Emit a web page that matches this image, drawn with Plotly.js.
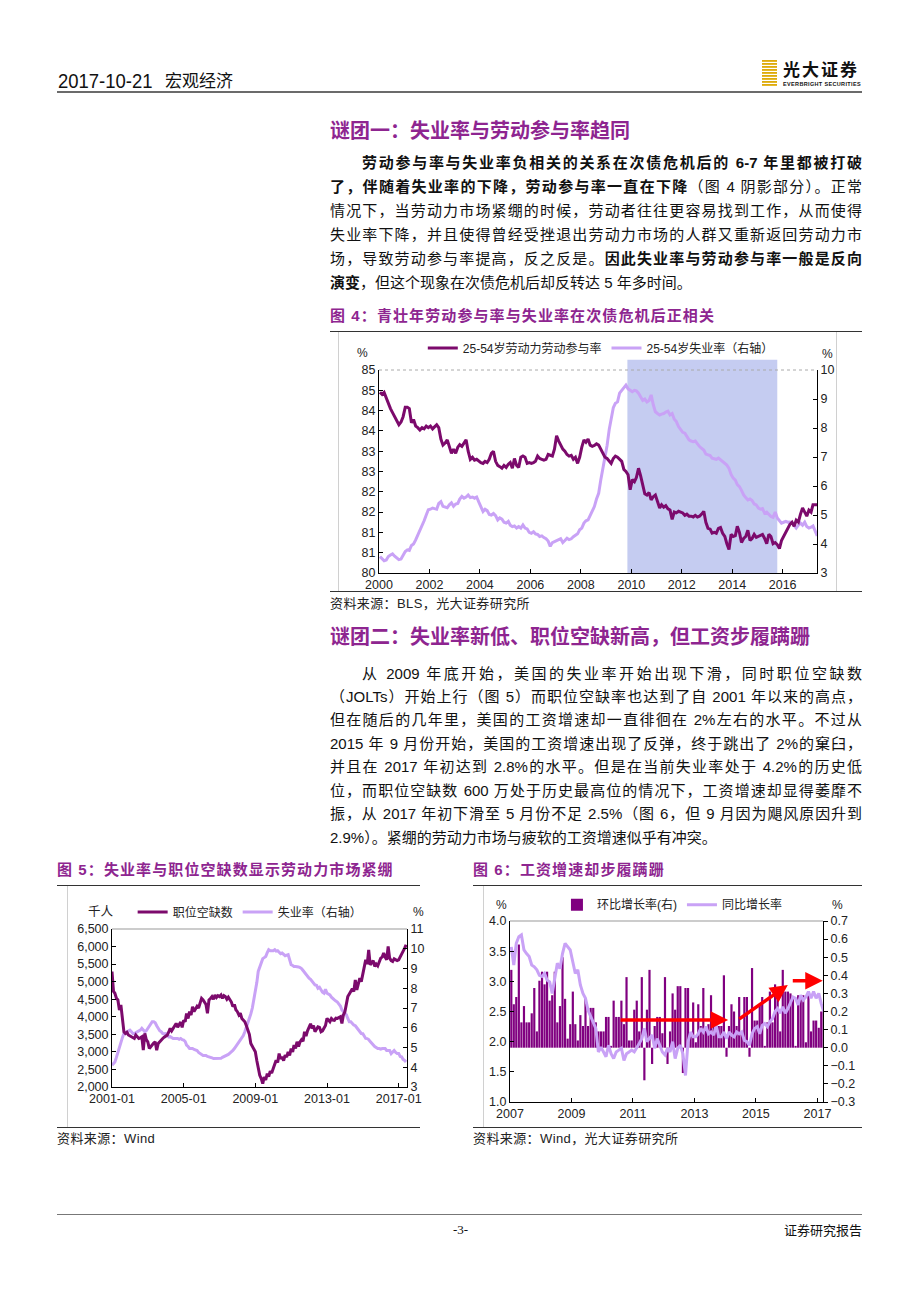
<!DOCTYPE html>
<html><head><meta charset="utf-8">
<script src="https://cdn.plot.ly/plotly-3.0.1.min.js"></script>
<style>
body{margin:0;width:920px;height:1302px;background:#fff;position:relative;overflow:hidden;font-family:"Liberation Sans","Noto Sans CJK SC",sans-serif;color:#111}
.abs{position:absolute}
.h{position:absolute;left:330px;font-family:"Noto Sans CJK SC";font-weight:700;font-size:20px;line-height:26px;color:#8e2590;white-space:nowrap}
.cap{position:absolute;font-family:"Liberation Sans","Noto Sans CJK SC";font-weight:700;font-size:15px;line-height:20px;color:#8e2590;letter-spacing:1.1px;white-space:nowrap}
.src{position:absolute;font-family:"Liberation Sans","Noto Sans CJK SC";font-size:13px;line-height:16px;color:#222;letter-spacing:0.4px;white-space:nowrap}
.para{position:absolute;left:330px;width:532px;font-size:15px;font-family:"Liberation Sans","Noto Sans CJK SC";color:#111}
.ln{overflow:hidden;text-align:justify;text-align-last:justify}
.ln.last{text-align-last:left}
.p1 .ln{height:24px;line-height:24px}
.p2 .ln{height:23.45px;line-height:23.45px}
.rule{position:absolute;height:0;border-top:1px solid #333}
.chart{position:absolute}
</style></head>
<body>
<!-- header -->
<div class="abs" style="left:58px;top:68px;font-family:'Liberation Sans';font-size:21px;line-height:26px;color:#111;transform:scaleX(0.88);transform-origin:left top">2017-10-21</div>
<div class="abs" style="left:165px;top:68px;font-family:'Noto Sans CJK SC';font-size:17px;line-height:24px;color:#111">宏观经济</div>
<div class="abs" style="left:762px;top:60px;width:15px;height:26px;background:repeating-linear-gradient(#d8a200 0px,#e9c23a 2px,#fff 2px,#fff 3px)"></div>
<div class="abs" style="left:783px;top:58px;font-family:'Noto Sans CJK SC';font-weight:700;font-size:17px;line-height:22px;letter-spacing:2px;color:#111">光大证券</div>
<div class="abs" style="left:783px;top:81px;font-family:'Liberation Sans';font-weight:700;font-size:5.5px;line-height:7px;letter-spacing:0.35px;color:#111">EVERBRIGHT SECURITIES</div>
<div class="abs" style="left:57px;top:91px;width:805px;height:2px;background:#6b6b6b"></div>

<div class="h" style="top:117px">谜团一：失业率与劳动参与率趋同</div>
<div class="para p1" style="top:151px">
<div class="ln" style="padding-left:32px"><b>劳动参与率与失业率负相关的关系在次债危机后的 6-7 年里都被打破</b></div>
<div class="ln"><b>了，伴随着失业率的下降，劳动参与率一直在下降</b>（图 4 阴影部分）。正常</div>
<div class="ln">情况下，当劳动力市场紧绷的时候，劳动者往往更容易找到工作，从而使得</div>
<div class="ln">失业率下降，并且使得曾经受挫退出劳动力市场的人群又重新返回劳动力市</div>
<div class="ln">场，导致劳动参与率提高，反之反是。<b>因此失业率与劳动参与率一般是反向</b></div>
<div class="ln last"><b>演变</b>，但这个现象在次债危机后却反转达 5 年多时间。</div>
</div>

<div class="cap" style="left:330px;top:306px">图 4：青壮年劳动参与率与失业率在次债危机后正相关</div>
<div class="rule" style="left:330px;top:331px;width:532px"></div>
<div class="abs" style="left:338px;top:332px;width:0;height:259px;border-left:1px solid #d0d0d0"></div>
<div class="abs" style="left:836px;top:332px;width:0;height:259px;border-left:1px solid #d0d0d0"></div>
<div id="c4" class="chart" style="left:338px;top:334px;width:497px;height:260px"></div>
<div class="rule" style="left:330px;top:591px;width:532px"></div>
<div class="src" style="left:330px;top:596px">资料来源：BLS，光大证券研究所</div>

<div class="h" style="top:623px">谜团二：失业率新低、职位空缺新高，但工资步履蹒跚</div>
<div class="para p2" style="top:661.5px">
<div class="ln" style="padding-left:32px">从 2009 年底开始，美国的失业率开始出现下滑，同时职位空缺数</div>
<div class="ln">（JOLTs）开始上行（图 5）而职位空缺率也达到了自 2001 年以来的高点，</div>
<div class="ln">但在随后的几年里，美国的工资增速却一直徘徊在 2%左右的水平。不过从</div>
<div class="ln">2015 年 9 月份开始，美国的工资增速出现了反弹，终于跳出了 2%的窠臼，</div>
<div class="ln">并且在 2017 年初达到 2.8%的水平。但是在当前失业率处于 4.2%的历史低</div>
<div class="ln">位，而职位空缺数 600 万处于历史最高位的情况下，工资增速却显得萎靡不</div>
<div class="ln">振，从 2017 年初下滑至 5 月份不足 2.5%（图 6，但 9 月因为飓风原因升到</div>
<div class="ln last">2.9%）。紧绷的劳动力市场与疲软的工资增速似乎有冲突。</div>
</div>

<div class="cap" style="left:57px;top:860px">图 5：失业率与职位空缺数显示劳动力市场紧绷</div>
<div class="cap" style="left:473px;top:860px">图 6：工资增速却步履蹒跚</div>
<div class="rule" style="left:57px;top:885px;width:363px"></div>
<div class="rule" style="left:473px;top:885px;width:389px"></div>
<div class="abs" style="left:67px;top:886px;width:0;height:241px;border-left:1px solid #d0d0d0"></div>
<div class="abs" style="left:483px;top:886px;width:0;height:241px;border-left:1px solid #d0d0d0"></div>
<div id="c5" class="chart" style="left:67px;top:887px;width:360px;height:239px"></div>
<div id="c6" class="chart" style="left:483px;top:887px;width:379px;height:239px"></div>
<div class="rule" style="left:57px;top:1127px;width:363px"></div>
<div class="rule" style="left:473px;top:1127px;width:389px"></div>
<div class="src" style="left:57px;top:1131px">资料来源：Wind</div>
<div class="src" style="left:473px;top:1131px">资料来源：Wind，光大证券研究所</div>

<div class="abs" style="left:57px;top:1214px;width:805px;height:1px;background:#777"></div>
<div class="abs" style="left:453px;top:1222px;font-family:'Liberation Serif';font-size:13px;line-height:16px;color:#111">-3-</div>
<div class="abs" style="right:58px;top:1222px;font-family:'Noto Sans CJK SC';font-size:13px;line-height:16px;color:#111">证券研究报告</div>

<script>
// ---------- Figure 4 data (monthly, 2000-01 .. 2017-05) ----------
const fig4Start = [2000, 1];
const lfpr = [
84.45,84.40,84.45,84.30,84.15,84.05,83.95,83.85,83.75,83.65,83.72,83.85,
84.08,84.08,84.05,83.70,83.78,83.62,83.58,83.52,83.58,83.55,83.62,83.58,
83.62,83.55,83.60,83.65,83.58,83.30,83.15,83.20,83.28,83.10,82.95,83.05,
82.95,83.10,83.16,83.12,83.20,83.28,83.00,82.80,82.85,82.78,82.80,82.75,
82.72,82.70,82.75,82.72,82.80,82.95,83.00,82.75,82.65,82.62,82.58,82.65,
82.60,82.68,82.72,82.58,82.82,82.65,82.60,82.85,82.88,82.85,82.70,82.72,
82.70,82.72,82.75,82.88,82.82,82.80,82.78,82.80,82.92,82.90,82.88,83.05,
83.38,83.25,83.15,83.05,83.00,82.92,82.88,82.90,82.80,82.85,82.70,82.85,
83.10,83.28,83.22,83.30,83.15,83.12,83.14,83.18,83.15,83.05,82.95,82.85,
82.82,82.75,82.70,82.82,82.88,82.85,82.80,82.75,82.55,82.50,82.42,82.05,
82.30,82.25,82.35,82.58,82.40,82.15,81.95,81.92,81.98,81.80,81.88,81.92,
81.75,81.60,81.68,81.62,81.66,81.58,81.55,81.32,81.50,81.48,81.52,81.50,
81.48,81.42,81.45,81.40,81.40,81.38,81.42,81.38,81.40,81.45,81.52,81.25,
81.10,81.08,80.98,81.00,80.98,81.10,81.12,80.98,80.90,80.72,80.58,80.95,
80.90,80.92,81.15,81.00,80.75,80.85,80.90,81.05,80.80,80.85,80.95,80.88,
80.90,80.92,80.95,80.85,80.72,80.95,80.90,80.72,80.75,80.70,80.60,80.80,
80.90,81.00,81.10,81.20,81.25,81.15,81.30,81.25,81.45,81.60,81.50,81.40,
81.55,81.50,81.68,81.68,81.68];
const unemp4 = [
3.57,3.50,3.42,3.45,3.57,3.62,3.66,3.58,3.50,3.46,3.48,3.62,
3.74,3.80,3.78,3.95,4.00,4.14,4.30,4.45,4.60,4.80,5.00,5.18,
5.20,5.24,5.22,5.20,5.40,5.46,5.30,5.28,5.25,5.35,5.42,5.30,
5.38,5.40,5.55,5.64,5.58,5.62,5.69,5.60,5.62,5.58,5.62,5.45,
5.30,5.12,5.20,5.15,5.02,5.00,5.05,4.98,4.83,4.90,4.86,4.75,
4.72,4.78,4.65,4.60,4.62,4.55,4.60,4.55,4.66,4.55,4.52,4.40,
4.37,4.42,4.35,4.33,4.26,4.28,4.22,4.18,4.10,3.92,4.05,4.09,
4.12,4.15,4.18,4.05,4.12,4.20,4.15,4.18,4.25,4.30,4.35,4.49,
4.55,4.72,4.80,4.83,5.00,5.15,5.29,5.55,5.75,6.20,6.60,6.90,
7.40,7.95,8.30,8.70,8.85,8.90,9.20,9.31,9.40,9.48,9.35,9.30,
9.25,9.30,9.28,9.20,9.08,8.95,9.00,8.90,8.95,9.14,8.80,8.56,
8.50,8.45,8.48,8.50,8.55,8.58,8.45,8.50,8.30,8.22,8.05,7.93,
7.85,7.82,7.70,7.59,7.55,7.53,7.55,7.45,7.36,7.30,7.24,7.10,
7.07,7.05,6.96,6.95,6.92,6.96,6.90,6.85,6.79,6.72,6.61,6.40,
6.27,6.20,6.05,5.98,5.85,5.69,5.60,5.52,5.55,5.50,5.38,5.35,
5.24,5.20,5.22,5.06,5.10,5.02,4.95,4.92,5.10,4.90,4.80,4.72,
4.75,4.78,4.75,4.76,4.72,4.62,4.55,4.65,4.72,4.65,4.75,4.60,
4.55,4.58,4.62,4.45,4.28];
const shadeStart = '2009-11-05', shadeEnd = '2015-10-15';
const fig4LeftTicks = [80,80.5,81,81.5,82,82.5,83,83.5,84,84.5,85];
const fig4LeftLabels = ['80','81','81','82','82','83','83','84','84','85','85'];
const fig4Names = ['25-54岁劳动力劳动参与率','25-54岁失业率（右轴）'];

// ---------- Figure 5 data (monthly, 2001-01 .. 2017-06) ----------
const fig5Start = [2001, 1];
const openings = [
5289,4720,4670,4530,4480,4190,4340,3860,3570,3525,3560,3480,
3450,3430,3400,3382,3478,3420,3382,3400,3430,3049,3525,3350,
3287,3096,3150,3192,3250,3287,3049,3240,3300,3330,3382,3420,
3450,3478,3560,3668,3600,3668,3720,3811,3700,3760,3850,3700,
3900,3860,4097,3950,4145,4050,4288,4150,4240,4300,4250,4383,
4526,4480,4430,4350,4097,4479,4520,4574,4500,4622,4550,4600,
4574,4620,4526,4600,4574,4500,4560,4479,4420,4288,4350,4200,
4145,4050,4100,3954,3900,3859,3750,3621,3500,3239,3150,3050,
3001,2750,2524,2334,2238,2095,2286,2200,2381,2300,2450,2400,
2524,2650,2762,2700,2953,2800,2857,2750,2905,2850,3001,2900,
3096,3000,3192,3100,3287,3150,3287,3350,3300,3573,3450,3600,
3716,3800,3668,3750,3573,3650,3716,3700,3573,3600,3668,3750,
3954,3900,3859,3950,3906,3900,3960,3954,3980,4002,3811,4050,
4145,4400,4574,4650,4717,4800,4717,5051,4765,4900,5098,5000,
5241,5400,5622,5500,5908,5479,5527,5600,5432,5500,5450,5550,
5670,5700,5813,5700,5622,6004,5670,5600,5575,5650,5622,5600,
5622,5700,5765,5850,5950,6052];
const unemp5 = [
4.10,4.20,4.27,4.50,4.78,5.00,5.29,5.50,5.71,5.75,5.80,5.85,
5.88,5.80,5.71,5.71,5.75,5.80,5.80,5.88,5.97,5.90,5.80,5.85,
5.97,6.05,6.20,6.31,6.31,6.25,6.10,5.95,5.85,5.80,5.71,5.70,
5.71,5.65,5.54,5.55,5.50,5.46,5.46,5.46,5.46,5.42,5.46,5.40,
5.38,5.30,5.12,5.05,4.95,4.95,4.95,4.90,4.87,4.85,4.75,4.69,
4.65,4.60,4.60,4.60,4.55,4.53,4.53,4.48,4.44,4.44,4.44,4.44,
4.44,4.45,4.50,4.53,4.55,4.60,4.65,4.72,4.78,4.85,4.95,5.05,
5.20,5.30,5.40,5.46,5.60,5.80,6.00,6.20,6.40,6.70,7.00,7.40,
7.83,8.30,8.85,9.10,9.36,9.50,9.55,9.61,9.80,9.95,9.90,9.90,
9.90,9.95,9.88,9.90,9.80,9.75,9.78,9.70,9.65,9.68,9.70,9.45,
9.19,9.15,9.10,9.10,9.10,9.08,9.05,9.00,8.90,8.80,8.68,8.60,
8.51,8.45,8.34,8.25,8.17,8.15,8.00,8.05,7.90,7.80,7.75,7.95,
7.75,7.70,7.66,7.55,7.50,7.41,7.35,7.30,7.20,7.10,6.90,6.80,
6.70,6.65,6.47,6.30,6.30,6.20,6.14,6.10,6.00,5.90,5.80,5.71,
5.70,5.60,5.46,5.45,5.40,5.30,5.20,5.12,5.05,5.00,4.95,4.95,
4.92,4.95,4.95,4.95,4.85,4.85,4.85,4.69,4.75,4.85,4.75,4.70,
4.70,4.55,4.53,4.40,4.35,4.27];
const fig5Names = ['职位空缺数','失业率（右轴）'];

// ---------- Figure 6 data (monthly, 2007-01 .. 2017-03) ----------
const fig6Start = [2007, 1];
const momGrowth = [
0.43,0.24,0.28,0.57,0.14,0.23,0.14,0.14,0.19,
0.33,0.09,0.37,0.42,0.35,0.42,0.26,0.29,0.42,0.14,
0.23,0.50,0.27,0.05,0.13,0.31,0.13,0.04,0.18,0.12,
0.27,0.12,0.22,0.22,0.14,0.09,0.09,0.09,0.17,0.17,
0.01,0.26,0.17,0.17,0.26,0.13,0.39,0.04,0.04,
0.21,0.26,0.09,0.39,-0.18,0.21,0.43,-0.09,0.12,0.17,
0.17,0.08,0.39,-0.09,0.09,0.30,0.21,0.34,0.34,-0.14,
0.33,0.33,0.07,0.25,0.03,0.24,0.12,0.33,0.12,0.13,
0.29,0.12,0.16,0.12,0.12,0.40,-0.05,0.12,0.24,0.20,
0.12,0.28,0.09,0.28,0.28,-0.05,0.44,0.15,0.15,0.24,
0.28,0.01,0.14,0.31,0.14,0.35,0.33,0.09,0.43,0.31,
0.31,0.30,0.27,0.01,0.29,0.29,0.29,0.03,0.29,0.09,
0.15,0.15,0.11,0.20,0.23];
const yoyGrowth = [
3.57,3.27,3.63,3.74,3.77,3.52,3.46,3.41,3.27,3.24,
3.19,3.10,3.08,3.13,3.02,2.99,2.80,3.05,3.30,
3.21,3.46,3.63,3.57,3.52,3.32,3.13,3.19,2.94,2.80,
2.72,2.52,2.41,2.33,2.22,1.83,1.91,1.83,1.75,1.94,
1.80,1.72,1.83,1.86,1.89,1.69,1.80,1.83,1.86,
1.83,1.89,1.97,2.05,2.22,2.00,2.05,2.11,1.89,2.05,
1.94,1.83,1.78,1.89,1.83,2.00,1.72,1.89,1.94,1.80,
1.44,2.00,2.16,2.08,2.08,2.13,2.22,2.16,2.25,2.13,
2.16,2.11,2.27,2.08,2.08,2.16,2.05,2.16,2.11,
2.08,2.16,2.13,2.16,2.02,2.00,1.94,2.13,2.22,2.25,
2.13,2.27,2.30,2.25,2.33,2.38,2.50,2.55,2.47,2.58,
2.47,2.55,2.66,2.74,2.72,2.61,2.77,2.69,2.74,
2.83,2.72,2.83,2.72,2.80,2.63,2.50];
const fig6Names = ['环比增长率(右)','同比增长率'];
const fig6Arrows = [
  {from:['2010-07-20',2.36], to:['2014-02-05',2.36]},
  {from:['2014-06-01',2.36], to:['2016-01-15',2.94]},
  {from:['2016-02-25',3.01], to:['2017-03-05',3.01]}
];

// ---------- helpers ----------
function months(start, n, day){
  const out=[];
  for(let i=0;i<n;i++){
    const y=start[0]+Math.floor((start[1]-1+i)/12);
    const m=(start[1]-1+i)%12+1;
    out.push(y+'-'+String(m).padStart(2,'0')+'-'+day);
  }
  return out;
}
const DARK='#7c0a6c', LIGHT='#c9a2f6', BARC='#800080';
const FONT='Liberation Sans, Noto Sans CJK SC, sans-serif';
const tickFont={family:FONT,size:12.5,color:'#222'};
const cfg={staticPlot:true,displayModeBar:false};
function pct(txt,x,y){return {text:txt,xref:'paper',yref:'paper',x:x,y:y,xanchor:'center',yanchor:'middle',showarrow:false,font:{family:FONT,size:12,color:'#222'}};}

// ---------- Figure 4 ----------
(function(){
  const x=months(fig4Start, lfpr.length, '15');
  const traces=[
    {x:x,y:unemp4,type:'scatter',mode:'lines',name:fig4Names[1],yaxis:'y',line:{color:LIGHT,width:3}},
    {x:x,y:lfpr,type:'scatter',mode:'lines',name:fig4Names[0],yaxis:'y2',line:{color:DARK,width:3}}
  ];
  const layout={
    width:497,height:260,margin:{l:41,r:18,t:36,b:21,autoexpand:false},
    paper_bgcolor:'rgba(0,0,0,0)',plot_bgcolor:'rgba(0,0,0,0)',
    font:{family:FONT,size:12,color:'#222'},
    showlegend:true,
    legend:{orientation:'h',x:0.10,y:1.18,xanchor:'left',yanchor:'top',traceorder:'reversed',
      font:{family:FONT,size:12,color:'#222'},itemwidth:30,bgcolor:'rgba(0,0,0,0)'},
    xaxis:{type:'date',range:['2000-01-01','2017-05-12'],tick0:'2000-01-01',dtick:'M24',tickformat:'%Y',
      showgrid:false,zeroline:false,showline:true,linecolor:'#000',linewidth:1,ticks:'inside',ticklen:4,tickcolor:'#000',tickfont:tickFont},
    yaxis:{side:'right',range:[3,10],dtick:1,showgrid:false,zeroline:false,showline:true,linecolor:'#000',linewidth:1,
      ticks:'inside',ticklen:4,tickcolor:'#000',tickfont:tickFont},
    yaxis2:{side:'left',overlaying:'y',range:[80,85],tickmode:'array',tickvals:fig4LeftTicks,ticktext:fig4LeftLabels,
      showgrid:false,zeroline:false,showline:true,linecolor:'#000',linewidth:1,ticks:'inside',ticklen:4,tickcolor:'#000',tickfont:tickFont},
    shapes:[
      {type:'rect',xref:'x',yref:'paper',x0:shadeStart,x1:shadeEnd,y0:0,y1:1.05,fillcolor:'#c5ccf1',line:{width:0},layer:'below'},
      {type:'line',xref:'paper',yref:'paper',x0:0,x1:1,y0:1,y1:1,line:{color:'#aaa',width:1,dash:'dot'}}
    ],
    annotations:[pct('%',-0.037,1.085),pct('%',1.025,1.08)]
  };
  Plotly.newPlot('c4',traces,layout,cfg);
})();

// ---------- Figure 5 ----------
(function(){
  const x=months(fig5Start, openings.length, '01');
  const traces=[
    {x:x,y:unemp5,type:'scatter',mode:'lines',name:fig5Names[1],yaxis:'y',line:{color:LIGHT,width:3}},
    {x:x,y:openings,type:'scatter',mode:'lines',name:fig5Names[0],yaxis:'y2',line:{color:DARK,width:3}}
  ];
  const a1=pct('千人',-0.038,1.11); a1.font.size=12.5;
  const layout={
    width:360,height:239,margin:{l:45,r:20,t:42,b:39,autoexpand:false},
    paper_bgcolor:'rgba(0,0,0,0)',plot_bgcolor:'rgba(0,0,0,0)',
    font:{family:FONT,size:12,color:'#222'},
    showlegend:true,
    legend:{orientation:'h',x:0.07,y:1.20,xanchor:'left',yanchor:'top',traceorder:'reversed',
      font:{family:FONT,size:12,color:'#222'},itemwidth:30,bgcolor:'rgba(0,0,0,0)'},
    xaxis:{type:'date',range:['2001-01-01','2017-06-20'],tick0:'2001-01-01',dtick:'M48',tickformat:'%Y-%m',
      showgrid:false,zeroline:false,showline:true,linecolor:'#000',linewidth:1,ticks:'inside',ticklen:4,tickcolor:'#000',tickfont:tickFont},
    yaxis:{side:'right',range:[3,11],dtick:1,showgrid:false,zeroline:false,showline:true,linecolor:'#000',linewidth:1,
      ticks:'inside',ticklen:4,tickcolor:'#000',tickfont:tickFont},
    yaxis2:{side:'left',overlaying:'y',range:[2000,6500],dtick:500,tickformat:',d',
      showgrid:false,zeroline:false,showline:true,linecolor:'#000',linewidth:1,ticks:'inside',ticklen:4,tickcolor:'#000',tickfont:tickFont},
    shapes:[
      {type:'line',xref:'paper',yref:'paper',x0:0,x1:1,y0:1,y1:1,line:{color:'#999',width:1}}
    ],
    annotations:[a1,pct('%',1.04,1.11)]
  };
  Plotly.newPlot('c5',traces,layout,cfg);
})();

// ---------- Figure 6 ----------
(function(){
  const x=months(fig6Start, momGrowth.length, '01');
  const traces=[
    {x:x,y:momGrowth,type:'bar',name:fig6Names[0],yaxis:'y',xperiod:'M1',xperiodalignment:'middle',
      marker:{color:BARC,line:{width:0}}},
    {x:x,y:yoyGrowth,type:'scatter',mode:'lines',name:fig6Names[1],yaxis:'y2',xperiod:'M1',xperiodalignment:'middle',
      line:{color:LIGHT,width:3}}
  ];
  const ann=[pct('%',-0.026,1.09),pct('%',1.047,1.09)];
  fig6Arrows.forEach(a=>ann.push({text:'',x:a.to[0],y:a.to[1],ax:a.from[0],ay:a.from[1],xref:'x',yref:'y2',axref:'x',ayref:'y2',
    showarrow:true,arrowhead:2,arrowsize:1,arrowwidth:3.5,arrowcolor:'#ff0000',standoff:0,startstandoff:0}));
  const layout={
    width:379,height:239,margin:{l:27,r:39,t:34,b:24,autoexpand:false},
    paper_bgcolor:'rgba(0,0,0,0)',plot_bgcolor:'rgba(0,0,0,0)',
    font:{family:FONT,size:12,color:'#222'},
    bargap:0.12,
    showlegend:true,
    legend:{orientation:'h',x:0.15,y:1.17,xanchor:'left',yanchor:'top',
      font:{family:FONT,size:12,color:'#222'},itemwidth:30,bgcolor:'rgba(0,0,0,0)'},
    xaxis:{type:'date',range:['2007-01-01','2017-03-08'],tick0:'2007-01-01',dtick:'M24',tickformat:'%Y',
      showgrid:false,zeroline:false,showline:true,linecolor:'#000',linewidth:1,ticks:'inside',ticklen:4,tickcolor:'#000',tickfont:tickFont},
    yaxis:{side:'right',range:[-0.3,0.7],dtick:0.1,tickformat:'.1f',showgrid:false,zeroline:false,showline:true,linecolor:'#000',linewidth:1,
      ticks:'outside',ticklen:4,tickcolor:'#000',tickfont:tickFont},
    yaxis2:{side:'left',overlaying:'y',range:[1,4],dtick:0.5,tickformat:'.1f',
      showgrid:false,zeroline:false,showline:true,linecolor:'#000',linewidth:1,ticks:'inside',ticklen:4,tickcolor:'#000',tickfont:tickFont},
    shapes:[
      {type:'line',xref:'paper',yref:'paper',x0:0,x1:1,y0:1,y1:1,line:{color:'#999',width:1}}
    ],
    annotations:ann
  };
  Plotly.newPlot('c6',traces,layout,cfg);
})();
</script>
</body></html>
